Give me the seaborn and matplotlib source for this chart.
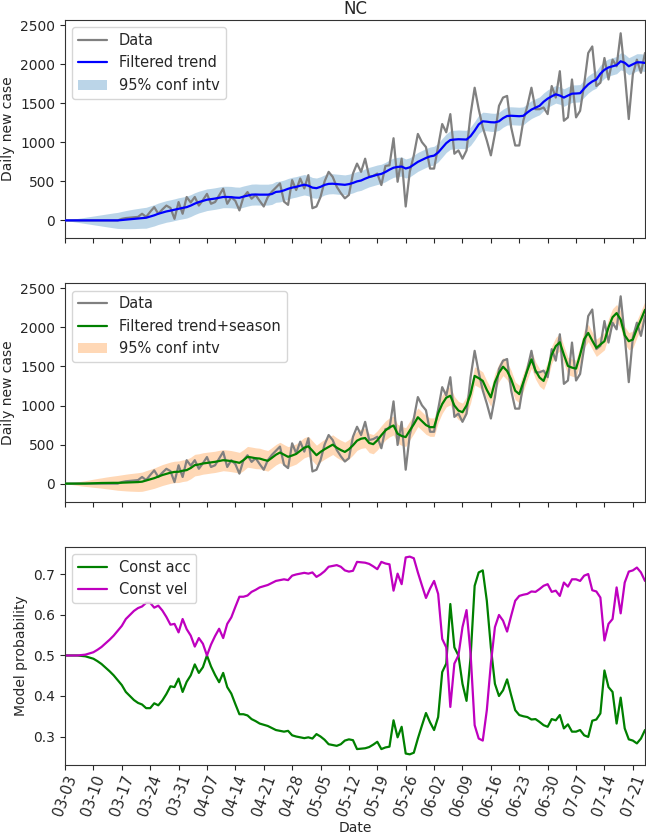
import numpy as np
import pandas as pd
import matplotlib
matplotlib.use("Agg")
import matplotlib.pyplot as plt
import seaborn as sns

sns.set_style("ticks")
plt.rcParams["font.family"] = ["DejaVu Sans"]

# ---------------- data ----------------
start_date = "2020-03-03"
tick_start, tick_end = "2020-03-03", "2020-07-21"

daily_cases = [
    0, 0, 0, 0, 0, 0, 0, 0, 0, 0, 0, 0, 0, 0,
    20, 30, 35, 40, 45, 85, 45, 110, 170, 85, 140, 190, 160, 20, 235, 85,
    300, 230, 300, 190, 260, 340, 213, 235, 320, 406, 213, 300, 250, 128, 300,
    363, 278, 326, 250, 178, 300, 368, 420, 474, 241, 199, 516, 389, 537, 410,
    580, 156, 178, 300, 500, 622, 558, 431, 350, 283, 326, 600, 728, 622, 791,
    558, 570, 600, 453, 698, 706, 1053, 495, 791, 178, 622, 833, 1108, 1003, 939,
    664, 664, 950, 1235, 1129, 1362, 854, 897, 791, 897, 1362, 1700, 1425, 1193, 1024,
    833, 1108, 1468, 1574, 1595, 1193, 960, 960, 1277, 1468, 1700, 1425, 1425, 1447, 1362,
    1722, 1574, 1912, 1277, 1320, 1806, 1320, 1404, 1743, 2145, 2229, 1722, 1764, 2081, 1806,
    2060, 1975, 2398, 1891, 1299, 1870, 2060, 1891, 2145,
]

filtered_trend = [
    0, 0, 0, 0, 0, 0, 0, 0, 0, 0, 0, 0, 0, 0,
    5, 10, 15, 20, 25, 30, 34, 50, 65, 85, 100, 115, 125, 137, 150, 160,
    170, 190, 215, 235, 250, 265, 272, 280, 290, 300, 300, 298, 292, 290, 305,
    318, 330, 332, 330, 330, 330, 338, 365, 370, 385, 405, 420, 430, 445, 457,
    445, 420, 413, 430, 455, 468, 470, 465, 460, 456, 465, 480, 500, 511, 535,
    555, 570, 585, 596, 620, 650, 675, 685, 690, 665, 680, 715, 750, 775, 800,
    820, 830, 870, 930, 990, 1030, 1036, 1040, 1038, 1036, 1080, 1150, 1230, 1270, 1265,
    1258, 1256, 1270, 1310, 1338, 1341, 1338, 1335, 1340, 1383, 1420, 1445, 1468, 1520, 1560,
    1590, 1616, 1600, 1574, 1600, 1624, 1626, 1630, 1690, 1743, 1780, 1806, 1880, 1930, 1960,
    1975, 1990, 2039, 2020, 1975, 2000, 2026, 2025, 2018,
]

trend_halfwidth = [
    0, 8, 16, 24, 32, 40, 48, 56, 64, 72, 80, 88, 96, 103,
    110, 116, 121, 125, 128, 131, 134, 135, 136, 137, 138, 138, 139, 139, 140, 140,
    140, 140, 140, 139, 139, 139, 138, 138, 138, 137, 137, 137, 136, 136, 136,
    135, 135, 135, 134, 134, 134, 133, 133, 133, 132, 132, 132, 131, 131, 131,
    130, 130, 130, 129, 129, 129, 128, 128, 128, 127, 127, 127, 126, 126, 126,
    125, 125, 125, 124, 124, 124, 123, 123, 123, 122, 122, 122, 121, 121, 121,
    120, 120, 120, 120, 119, 119, 119, 119, 118, 118, 118, 118, 117, 117, 117,
    117, 116, 116, 116, 116, 115, 115, 115, 115, 114, 114, 114, 114, 113, 113,
    113, 113, 112, 112, 112, 112, 111, 111, 111, 111, 110, 110, 110, 110, 110,
    110, 110, 110, 110, 110, 110, 110, 110, 110,
]

trend_season = [
    0, 0, 0, 0, 0, 1, 3, 5, 7, 8, 9, 10, 10, 10,
    12, 14, 16, 18, 20, 25, 40, 55, 70, 90, 110, 125, 140, 150, 152, 165,
    173, 200, 237, 245, 258, 265, 272, 279, 290, 300, 295, 288, 278, 266, 300,
    343, 335, 325, 321, 305, 292, 330, 370, 398, 370, 343, 360, 380, 420, 460,
    478, 420, 364, 406, 440, 470, 499, 460, 430, 406, 440, 491, 550, 575, 584,
    520, 505, 554, 620, 680, 720, 744, 639, 610, 596, 680, 760, 850, 800, 750,
    723, 723, 900, 1019, 1100, 1125, 1000, 935, 914, 1000, 1150, 1379, 1350, 1315, 1200,
    1104, 1300, 1420, 1497, 1442, 1337, 1189, 1146, 1300, 1450, 1590, 1450, 1358, 1315, 1450,
    1650, 1760, 1810, 1650, 1506, 1485, 1472, 1650, 1850, 1929, 1830, 1738, 1780, 1823, 2000,
    2130, 2183, 2100, 1900, 1823, 1844, 1980, 2100, 2225,
]

season_halfwidth = [
    0, 8, 15, 22, 30, 37, 44, 52, 59, 66, 74, 81, 88, 95,
    101, 107, 112, 116, 120, 123, 126, 128, 130, 132, 134, 135, 136, 137, 138, 138,
    138, 138, 138, 137, 137, 137, 136, 136, 136, 135, 135, 135, 134, 134, 134,
    133, 133, 133, 132, 132, 132, 131, 131, 131, 130, 130, 130, 129, 129, 129,
    128, 128, 128, 127, 127, 127, 126, 126, 126, 125, 125, 125, 124, 124, 124,
    123, 123, 123, 122, 122, 122, 121, 121, 121, 120, 120, 120, 119, 119, 119,
    118, 118, 118, 118, 117, 117, 117, 117, 116, 116, 116, 116, 115, 115, 115,
    115, 114, 114, 114, 114, 113, 113, 113, 113, 112, 112, 112, 112, 111, 111,
    111, 111, 110, 110, 110, 110, 110, 110, 110, 110, 110, 110, 110, 110, 110,
    110, 110, 110, 110, 110, 110, 110, 110, 110,
]

const_vel = [
    0.500, 0.500, 0.500, 0.500, 0.501, 0.502, 0.505, 0.508, 0.514, 0.521,
    0.530, 0.539, 0.549, 0.561, 0.573, 0.590, 0.600, 0.610, 0.617, 0.621,
    0.630, 0.630, 0.618, 0.623, 0.611, 0.595, 0.576, 0.578, 0.557, 0.590,
    0.565, 0.549, 0.522, 0.543, 0.529, 0.500, 0.527, 0.548, 0.566, 0.543,
    0.578, 0.594, 0.620, 0.645, 0.645, 0.648, 0.657, 0.662, 0.668, 0.671,
    0.674, 0.679, 0.684, 0.686, 0.688, 0.686, 0.697, 0.700, 0.702, 0.704,
    0.702, 0.705, 0.694, 0.700, 0.708, 0.719, 0.721, 0.723, 0.719, 0.710,
    0.707, 0.709, 0.731, 0.730, 0.729, 0.726, 0.720, 0.713, 0.731, 0.727,
    0.725, 0.660, 0.702, 0.676, 0.742, 0.744, 0.740, 0.705, 0.673, 0.642,
    0.665, 0.684, 0.652, 0.541, 0.520, 0.373, 0.480, 0.500, 0.570, 0.612,
    0.504, 0.328, 0.295, 0.290, 0.365, 0.480, 0.570, 0.600, 0.586, 0.559,
    0.598, 0.635, 0.647, 0.650, 0.652, 0.658, 0.657, 0.664, 0.672, 0.676,
    0.657, 0.660, 0.647, 0.680, 0.670, 0.688, 0.688, 0.684, 0.697, 0.701,
    0.661, 0.658, 0.643, 0.537, 0.578, 0.590, 0.668, 0.604, 0.680, 0.707,
    0.710, 0.717, 0.705, 0.684,
]

const_acc = [
    0.500, 0.500, 0.500, 0.500, 0.499, 0.498, 0.495, 0.492, 0.486, 0.479,
    0.470, 0.461, 0.451, 0.439, 0.427, 0.410, 0.400, 0.390, 0.383, 0.379,
    0.370, 0.370, 0.382, 0.377, 0.389, 0.405, 0.424, 0.422, 0.443, 0.410,
    0.435, 0.451, 0.478, 0.457, 0.471, 0.500, 0.473, 0.452, 0.434, 0.457,
    0.422, 0.406, 0.380, 0.355, 0.355, 0.352, 0.343, 0.338, 0.332, 0.329,
    0.326, 0.321, 0.316, 0.314, 0.312, 0.314, 0.303, 0.300, 0.298, 0.296,
    0.298, 0.295, 0.306, 0.300, 0.292, 0.281, 0.279, 0.277, 0.281, 0.290,
    0.293, 0.291, 0.269, 0.270, 0.271, 0.274, 0.280, 0.287, 0.269, 0.273,
    0.275, 0.340, 0.298, 0.324, 0.258, 0.256, 0.260, 0.295, 0.327, 0.358,
    0.335, 0.316, 0.348, 0.459, 0.480, 0.627, 0.520, 0.500, 0.430, 0.388,
    0.496, 0.672, 0.705, 0.710, 0.635, 0.520, 0.430, 0.400, 0.414, 0.441,
    0.402, 0.365, 0.353, 0.350, 0.348, 0.342, 0.343, 0.336, 0.328, 0.324,
    0.343, 0.340, 0.353, 0.320, 0.330, 0.312, 0.312, 0.316, 0.303, 0.299,
    0.339, 0.342, 0.357, 0.463, 0.422, 0.410, 0.332, 0.396, 0.320, 0.293,
    0.290, 0.283, 0.295, 0.316,
]

# ---------------- figure ----------------
dates = pd.date_range(start_date, periods=len(daily_cases), freq="D")
tick_dates = pd.date_range(tick_start, tick_end, freq="7D")

df = pd.DataFrame({
    "date": dates,
    "data": daily_cases,
    "trend": filtered_trend,
    "trend_lo": np.array(filtered_trend) - np.array(trend_halfwidth),
    "trend_hi": np.array(filtered_trend) + np.array(trend_halfwidth),
    "ts": trend_season,
    "ts_lo": np.array(trend_season) - np.array(season_halfwidth),
    "ts_hi": np.array(trend_season) + np.array(season_halfwidth),
    "acc": const_acc,
    "vel": const_vel,
})

fig, axes = plt.subplots(3, 1, figsize=(6.46, 8.35), dpi=100, sharex=True)
fig.subplots_adjust(left=65 / 646, right=645 / 646, top=1 - 20 / 835,
                    bottom=1 - 765 / 835, hspace=0.206)

# Panel 1
ax = axes[0]
sns.lineplot(data=df, x="date", y="data", ax=ax, color="gray", lw=1.6, label="Data", zorder=3)
sns.lineplot(data=df, x="date", y="trend", ax=ax, color="blue", lw=1.6, label="Filtered trend", zorder=4)
ax.fill_between(df["date"], df["trend_lo"], df["trend_hi"], color="C0", alpha=0.3,
                lw=0, label="95% conf intv", zorder=1)
ax.set_ylim(-230, 2568)
ax.set_ylabel("Daily new case", fontsize=10)
ax.set_xlabel("")
ax.set_title("NC", fontsize=12, pad=4)
ax.legend(loc="upper left", fontsize=10.5)

# Panel 2
ax = axes[1]
sns.lineplot(data=df, x="date", y="data", ax=ax, color="gray", lw=1.6, label="Data", zorder=3)
sns.lineplot(data=df, x="date", y="ts", ax=ax, color="green", lw=1.6,
             label="Filtered trend+season", zorder=4)
ax.fill_between(df["date"], df["ts_lo"], df["ts_hi"], color="C1", alpha=0.3,
                lw=0, label="95% conf intv", zorder=1)
ax.set_ylim(-231, 2564)
ax.set_ylabel("Daily new case", fontsize=10)
ax.set_xlabel("")
ax.legend(loc="upper left", fontsize=10.5)

# Panel 3
ax = axes[2]
sns.lineplot(data=df, x="date", y="acc", ax=ax, color="green", lw=1.6, label="Const acc")
sns.lineplot(data=df, x="date", y="vel", ax=ax, color="m", lw=1.6, label="Const vel")
ax.set_ylim(0.2297, 0.7686)
ax.set_yticks([0.3, 0.4, 0.5, 0.6, 0.7])
ax.set_ylabel("Model probability", fontsize=10)
ax.set_xlabel("Date", fontsize=10, labelpad=2)
ax.legend(loc="upper left", fontsize=10.5)

ax.set_xlim(dates[0], dates[-1])
ax.set_xticks(tick_dates)
ax.set_xticklabels([d.strftime("%m-%d") for d in tick_dates], rotation=70, fontsize=10.5)

for a in axes:
    a.tick_params(axis="y", labelsize=10)
    a.tick_params(axis="x", pad=2)
    for s in a.spines.values():
        s.set_visible(True)
        s.set_color("#333333")

fig.savefig("out.png", dpi=100)
